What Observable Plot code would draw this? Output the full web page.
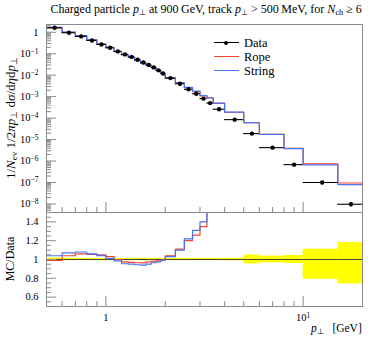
<!DOCTYPE html>
<html><head><meta charset="utf-8">
<script src="https://cdn.jsdelivr.net/npm/d3@7"></script>
<script src="https://cdn.jsdelivr.net/npm/@observablehq/plot@0.6"></script>
<style>
body{margin:0;background:#fff;}
#wrap{position:relative;width:374px;height:338px;overflow:hidden;font-family:"Liberation Serif",serif;color:#000;}
#wrap svg{position:absolute;left:0;}
.t{position:absolute;white-space:nowrap;line-height:1;}
.rot{position:absolute;white-space:nowrap;line-height:1;transform:translate(-50%,-50%) rotate(-90deg);}
sub{font-size:70%;vertical-align:-0.25em;line-height:0;}
.leg{position:absolute;height:0;}
</style></head><body><div id="wrap"></div>
<script>
// ---- data ----
const binEdges = [0.5,0.6,0.7,0.8,0.9,1.0,1.1,1.2,1.3,1.4,1.5,1.6,1.7,1.8,1.9,2.0,2.25,2.5,2.75,3.0,3.25,3.5,4.0,5.0,6.0,8.0,10,15,20];
const dataValues = [1.62,0.95,0.64,0.415,0.27,0.19,0.128,0.093,0.071,0.052,0.039,0.030,0.023,0.0168,0.0120,0.0073,0.0040,0.0022,0.00137,0.00081,0.00050,0.00026,8.5e-5,1.9e-5,4.2e-6,6.8e-7,1.0e-7,9.7e-9];
const ropeValues = [1.604,0.988,0.678,0.438,0.2835,0.1957,0.128,0.0907,0.0689,0.0502,0.0376,0.02925,0.02254,0.01655,0.01194,0.00759,0.00444,0.00264,0.001726,0.001094,8.7e-4,4.9e-4,1.88e-4,6.2e-5,1.76e-5,3.9e-6,7.3e-7,9.5e-8];
const stringValues = [1.685,1.017,0.691,0.440,0.281,0.1919,0.1261,0.0888,0.0675,0.0491,0.0367,0.0285,0.0222,0.01638,0.01188,0.00752,0.0044,0.002684,0.001795,0.001134,8.9e-4,5.0e-4,1.9e-4,6.2e-5,1.74e-5,3.8e-6,6.6e-7,8.0e-8];
const errUp   = [0.015,0.013,0.012,0.012,0.012,0.012,0.012,0.012,0.012,0.012,0.012,0.012,0.012,0.012,0.012,0.012,0.012,0.012,0.012,0.012,0.012,0.012,0.014,0.047,0.036,0.043,0.11,0.18];
const errDown = [0.015,0.013,0.012,0.012,0.012,0.012,0.012,0.012,0.012,0.012,0.012,0.012,0.012,0.012,0.012,0.012,0.012,0.012,0.012,0.012,0.012,0.012,0.014,0.047,0.036,0.043,0.21,0.26];
const yMajorTicks = [1e-8,1e-7,1e-6,1e-5,1e-4,1e-3,1e-2,1e-1,1];
const xMajorTicks = [1,10];
const ratioMajorTicks = [0.6,0.8,1.0,1.2,1.4];
const seriesNames = ["Data","Rope","String"];
const titleHTML = 'Charged particle <i>p</i><sub>⊥</sub> at 900\u2009GeV, track <i>p</i><sub>⊥</sub> &gt; 500\u2009MeV, for <i>N</i><sub>ch</sub> ≥ 6';

// ---- styles ----
const ropeColor = "#f0452f", stringColor = "#4a74f5", axisColor = "#8a8a8a";
const FONT = "'Liberation Serif', serif";

// ---- derived tables ----
const rows = dataValues.map((v,i)=>({
  lo: binEdges[i], hi: binEdges[i+1], c: (binEdges[i]+binEdges[i+1])/2,
  v, vlo: v*(1-errDown[i]), vhi: v*(1+errUp[i]),
  rope: ropeValues[i], str: stringValues[i],
  rdn: 1-errDown[i], rup: 1+errUp[i]
}));
function steps(key){ const p=[]; rows.forEach(r=>{p.push({x:r.lo,y:r[key]});p.push({x:r.hi,y:r[key]});}); return p; }
function ratioSteps(key){ const p=[]; rows.forEach(r=>{p.push({x:r.lo,y:r[key]/r.v});p.push({x:r.hi,y:r[key]/r.v});}); return p; }

const fmtPow = d => { const e = Math.round(Math.log10(d)); return e===0 ? "1" : "10^" + (e<0 ? "\u2212"+(-e) : String(e)); };
const xMinor = [];
for (const dec of [0.1,1,10]) for (let k=2;k<10;k++){ const t=k*dec; if (t>=0.5 && t<=20) xMinor.push(t);} 
const yMinor = [];
for (let e=-9;e<=0;e++) for (let k=2;k<10;k++){ const t=k*Math.pow(10,e); if (t>=4e-9 && t<=2.3) yMinor.push(t);} 
const rMinor = d3.range(0.5,1.5001,0.05).filter(t=>!ratioMajorTicks.some(m=>Math.abs(m-t)<1e-6));

const xDomain = [0.5,20];
const wrap = document.getElementById("wrap");

function superscriptify(svg){
  svg.querySelectorAll("text").forEach(t=>{
    const s = t.textContent;
    if (s.includes("^")){
      const [b,e] = s.split("^");
      t.textContent = "";
      const t1 = document.createElementNS("http://www.w3.org/2000/svg","tspan"); t1.textContent=b; t.appendChild(t1);
      const t2 = document.createElementNS("http://www.w3.org/2000/svg","tspan"); t2.textContent=e;
      t2.setAttribute("dy","-0.45em"); t2.setAttribute("font-size","0.72em"); t.appendChild(t2);
    }
  });
}

const topPlot = Plot.plot({
  width: 374, height: 212,
  marginTop: 24, marginBottom: 0, marginLeft: 46, marginRight: 12,
  x: {type:"log", domain: xDomain},
  y: {type:"log", domain: [4e-9, 2.3]},
  style: {fontFamily: FONT, fontSize: "10.5px", background: "transparent", color:"#000"},
  marks: [
    Plot.line(steps("rope"), {x:"x", y:"y", stroke: ropeColor, strokeWidth: 1.2}),
    Plot.line(steps("str"), {x:"x", y:"y", stroke: stringColor, strokeWidth: 1.2}),
    Plot.ruleY(rows, {y:"v", x1:"lo", x2:"hi", stroke:"#000", strokeWidth:1.1}),
    Plot.ruleX(rows, {x:"c", y1:"vlo", y2:"vhi", stroke:"#000", strokeWidth:1.1}),
    Plot.dot(rows, {x:"c", y:"v", r:2.2, fill:"#000"}),
    Plot.axisY(yMinor, {anchor:"left", tickSize:-5, tickFormat:()=> "", stroke: axisColor, label:null}),
    Plot.axisY(yMajorTicks, {anchor:"left", tickSize:-10, tickPadding:18, tickFormat: fmtPow, stroke: axisColor, label:null}),
    Plot.axisX(xMinor, {anchor:"bottom", tickSize:-5, tickFormat:()=> "", stroke: axisColor, label:null}),
    Plot.axisX(xMajorTicks, {anchor:"bottom", tickSize:-10, tickFormat:()=> "", stroke: axisColor, label:null}),
    Plot.frame({stroke: axisColor})
  ]
});
superscriptify(topPlot);
topPlot.style.top = "0px";
wrap.appendChild(topPlot);

const botPlot = Plot.plot({
  width: 374, height: 126,
  marginTop: 0, marginBottom: 32, marginLeft: 46, marginRight: 12,
  x: {type:"log", domain: xDomain},
  y: {domain: [0.5, 1.5]},
  style: {fontFamily: FONT, fontSize: "10.5px", background: "transparent", color:"#000"},
  marks: [
    Plot.rect(rows, {x1:"lo", x2:"hi", y1:"rdn", y2:"rup", fill:"#ffff00"}),
    Plot.ruleY([1], {stroke:"#333", strokeWidth:0.9}),
    Plot.line(ratioSteps("rope"), {x:"x", y:"y", stroke: ropeColor, strokeWidth: 1.2, clip: true}),
    Plot.line(ratioSteps("str"), {x:"x", y:"y", stroke: stringColor, strokeWidth: 1.2, clip: true}),
    Plot.axisY(rMinor, {anchor:"left", tickSize:-5, tickFormat:()=> "", stroke: axisColor, label:null}),
    Plot.axisY(ratioMajorTicks, {anchor:"left", tickSize:-10, tickPadding:18, tickFormat: d => Math.abs(d-1)<1e-9 ? "1" : d.toFixed(1), stroke: axisColor, label:null}),
    Plot.axisX(xMinor, {anchor:"bottom", tickSize:-5, tickFormat:()=> "", stroke: axisColor, label:null}),
    Plot.axisX(xMajorTicks, {anchor:"bottom", tickSize:-10, tickPadding:17, tickFormat: fmtPow, stroke: axisColor, label:null}),
    Plot.frame({stroke: axisColor})
  ]
});
superscriptify(botPlot);
botPlot.style.top = "212px";
wrap.appendChild(botPlot);

// ---- text overlays ----
function addText(html, css, cls="t"){ const d=document.createElement("div"); d.className=cls; d.innerHTML=html; Object.assign(d.style, css); wrap.appendChild(d); return d; }
const title = addText(titleHTML, {top:"3px", fontSize:"12px"});
title.style.left = (206 - title.offsetWidth/2) + "px";
addText('1/<i>N</i><sub>ev</sub> 1/2<i>π</i><i>p</i><sub>⊥</sub> d<i>σ</i>/d<i>η</i>d<i>p</i><sub>⊥</sub>', {left:"10px", top:"118px", fontSize:"13px"}, "rot");
addText('MC/Data', {left:"10px", top:"259px", fontSize:"12px"}, "rot");
const xl = addText('<i>p</i><sub>⊥</sub>&nbsp;&nbsp;&nbsp;[GeV]', {top:"323px", fontSize:"11.5px"});
xl.style.left = (362 - xl.offsetWidth) + "px";

// legend
const legY = [43, 57, 71];
const legColors = ["#000", ropeColor, stringColor];
seriesNames.forEach((name,i)=>{
  const line = document.createElement("div");
  line.className = "leg";
  Object.assign(line.style, {left:"214px", top:(legY[i]-0.6)+"px", width:"25px", borderTop:`1.2px solid ${legColors[i]}`});
  wrap.appendChild(line);
  if (i===0){
    const dot=document.createElement("div");
    Object.assign(dot.style,{position:"absolute",left:"224px",top:(legY[i]-2.2)+"px",width:"4.4px",height:"4.4px",borderRadius:"50%",background:"#000"});
    wrap.appendChild(dot);
  }
  const t = addText(name, {left:"244px", fontSize:"12.5px"});
  t.style.top = (legY[i] - t.offsetHeight/2) + "px";
});
</script></body></html>
